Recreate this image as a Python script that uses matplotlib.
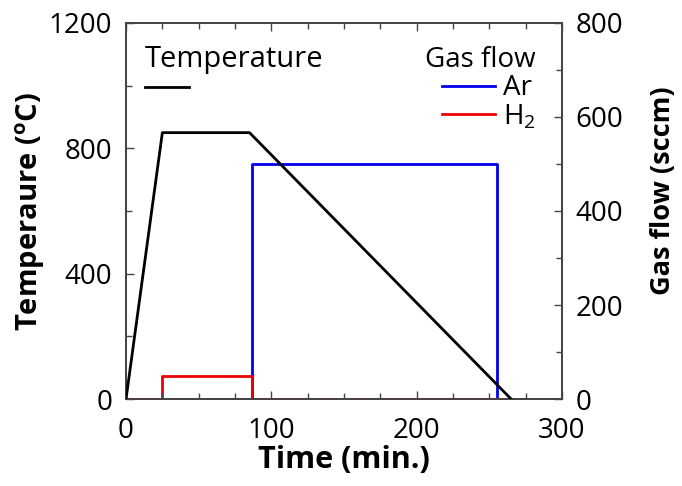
import matplotlib
matplotlib.use("Agg")
import matplotlib.pyplot as plt
from matplotlib.ticker import MultipleLocator
from matplotlib.lines import Line2D

plt.rcParams['font.family'] = ['Open Sans', 'DejaVu Sans']
plt.rcParams['mathtext.fontset'] = 'custom'
plt.rcParams['mathtext.rm'] = 'Open Sans'
plt.rcParams['mathtext.bf'] = 'Open Sans:bold'

# Furnace temperature profile (min, °C)
temp_t = [0, 25, 85, 265]
temp_v = [0, 850, 850, 0]

# Gas flow profiles (min, sccm)
ar_t = [0, 87, 87, 255, 255]
ar_v = [0, 0, 500, 500, 0]
h2_t = [0, 25, 25, 87, 87, 255]
h2_v = [0, 0, 50, 50, 0, 0]

x_ticks = [0, 100, 200, 300]
temp_ticks = [0, 400, 800, 1200]
flow_ticks = [0, 200, 400, 600, 800]

fig = plt.figure(figsize=(6.82, 4.86), dpi=100)
ax = fig.add_axes([0.1848, 0.179, 0.824 - 0.1848, 0.9527 - 0.179])
ax2 = ax.twinx()

lw = 2.0
ax2.plot(ar_t, ar_v, color='#0000ee', lw=lw, zorder=2)
ax2.plot(h2_t, h2_v, color='#ee0000', lw=lw, zorder=3)
ax.plot(temp_t, temp_v, color='black', lw=lw, zorder=4)
ax.set_zorder(ax2.get_zorder() + 1)
ax.patch.set_visible(False)

ax.set_xlim(0, 300)
ax.set_ylim(0, 1200)
ax2.set_ylim(0, 800)
ax.set_xticks(x_ticks)
ax.set_yticks(temp_ticks)
ax2.set_yticks(flow_ticks)
ax.xaxis.set_minor_locator(MultipleLocator(25))
ax.yaxis.set_minor_locator(MultipleLocator(200))
ax2.yaxis.set_minor_locator(MultipleLocator(100))

spine_c = '#444444'
for a in (ax, ax2):
    for s in a.spines.values():
        s.set_color(spine_c)
        s.set_linewidth(1.3)
    a.tick_params(which='both', direction='in', color=spine_c, width=1.0,
                  labelsize=20, pad=10)
    a.tick_params(which='major', length=6)
    a.tick_params(which='minor', length=4)
ax.tick_params(axis='x', which='both', top=True, pad=13)

ax.set_xlabel('Time (min.)', fontsize=22, fontweight='bold', labelpad=0)
ax.set_ylabel(r'Temperaure ($\mathregular{^o}$C)', fontsize=21, fontweight='bold', labelpad=1)
ax2.set_ylabel('Gas flow (sccm)', fontsize=19.5, fontweight='bold')
ax2.yaxis.set_label_coords(1.203, 0.553)

h_temp = Line2D([], [], color='black', lw=lw)
leg1 = ax.legend([h_temp], [''], title='Temperature', loc='upper left',
                 bbox_to_anchor=(0.01, 0.98),
                 frameon=False, fontsize=21, title_fontsize=21, alignment='left',
                 handlelength=1.5, labelspacing=0.05,
                 borderaxespad=0.3, borderpad=0.2)
ax.add_artist(leg1)
h_ar = Line2D([], [], color='#0000ee', lw=lw)
h_h2 = Line2D([], [], color='#ee0000', lw=lw)
ax.legend([h_ar, h_h2], ['Ar', r'H$_2$'], title='Gas flow', loc='upper right',
          bbox_to_anchor=(0.972, 0.975),
          frameon=False, fontsize=20, title_fontsize=20, alignment='right',
          handlelength=1.9, handletextpad=0.3, labelspacing=0.0,
          borderaxespad=0.3, borderpad=0.2)

fig.savefig('out.png', dpi=100)
